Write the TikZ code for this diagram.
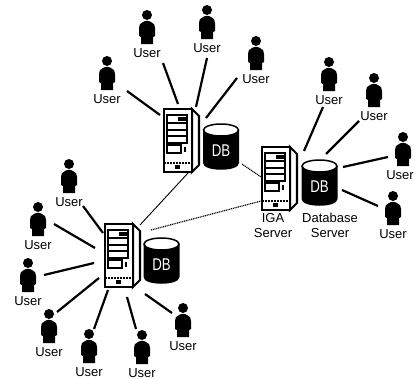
\documentclass[tikz,border=0pt]{standalone}
\usepackage{fontspec}
\setmainfont{Liberation Sans}
\tikzset{
  person/.style={fill=black,draw=none},
  userlabel/.style={font=\fontsize{13}{13}\selectfont,inner sep=0pt,text=black},
  spoke/.style={line width=2.2pt,line cap=butt},
  dotlink/.style={line width=1.2pt,dash pattern=on 1pt off 0.8pt},
  thinlink/.style={line width=0.9pt},
  case/.style={draw=black,line width=2.1pt,fill=white,line join=miter},
  part/.style={draw=black,line width=1.1pt,fill=white},
  dbtext/.style={text=white,font=\fontsize{17}{17}\selectfont,inner sep=0pt,xscale=0.78,transform shape},
  caption/.style={font=\fontsize{13}{15}\selectfont,inner sep=0pt,align=center}
}
% [label dx], name, head x, head y
\newcommand{\userfig}[4][0]{%
  \begin{scope}[shift={(#3,#4)}]
    \fill[person] (0,0) circle[radius=5];
    \fill[person] (-4,7) .. controls (-2,5.5) and (2,5.5) .. (4,7)
      .. controls (7,8) and (8,10) .. (8,13) -- (8,21) -- (6,22) -- (6,29) -- (-6,29) -- (-6,22) -- (-8,21) -- (-8,13)
      .. controls (-8,10) and (-7,8) .. (-4,7) -- cycle;
    \node[userlabel] (#2) at (#1,38) {User};
  \end{scope}}
% name, left x, top y
\newcommand{\serverfig}[3]{%
  \begin{scope}[shift={(#2,#3)}]
    \draw[case] (28,0) -- (35,7) -- (35,56) -- (28,63) -- cycle;
    \draw[case] (0,0) rectangle (28,63);
    \coordinate (#1) at (14,31);
    \draw[part] (3,6) rectangle (23,34);
    \draw[part] (3,14) -- (23,14) (3,21) -- (23,21) (3,27) -- (23,27);
    \fill[black] (14,8) rectangle (23,12);
    \draw[part] (3,36) rectangle (17,44);
    \fill[black] (20,38) rectangle (22,43);
    \draw[line width=1.1pt,dash pattern=on 2pt off 1pt] (0,54) -- (28,54);
    \fill[black] (11,56) rectangle (16,60);
  \end{scope}}
% name, center x, y of top ellipse centre
\newcommand{\dbfig}[3]{%
  \begin{scope}[shift={(#2,#3)}]
    \fill[black] (-18,0) -- (-18,33) .. controls (-18,42) and (18,42) .. (18,33) -- (18,0) -- cycle;
    \draw[black,line width=1.5pt,fill=white] (0,0) ellipse[x radius=17.5,y radius=6];
    \node[dbtext] (#1) at (0,21) {DB};
  \end{scope}}
\begin{document}
\begin{tikzpicture}[x=1pt,y=-1pt]
\useasboundingbox (0,0) rectangle (415,380);
\fill[white] (0,0) rectangle (415,380);

% top cluster
\userfig{ua}{107}{61}
\userfig{ub}{147}{15}
\userfig{uc}{207}{10}
\userfig{ud}{256}{41}
\serverfig{sa}{164}{109}
\dbfig{da}{221}{130}

% left cluster
\userfig{ue}{69}{164}
\userfig{uf}{38}{207}
\userfig{ug}{28}{263}
\userfig{uh}{49}{314}
\userfig{ui}{89}{334}
\userfig{uj}{142}{335}
\userfig{uk}{183}{308}
\serverfig{sb}{105}{224}
\dbfig{db}{161.5}{244}

% right cluster
\userfig{ul}{329}{62}
\userfig{um}{374}{78}
\userfig[-3]{un}{403}{137}
\userfig{uo}{393}{196}
\serverfig{sc}{262}{147}
\dbfig{dc}{319.5}{166}
\node[caption] (iga) at (273,225.5) {IGA\\Server};
\node[caption] (dbcap) at (330,225.5) {Database\\Server};

% connector ends
\foreach \n/\ax/\ay/\bx/\by in {
  a/127/91/160/115, b/163/63/178/104, c/207/58/196/107, d/237/78/206/118,
  e/83/206/103/233, f/54/224/95/248, g/44/275/94/263, h/57/312/99/278,
  i/94/329/108/290, j/136/329/127/297, k/172/313/145/294,
  l/323/107/304/151, m/359/121/326/154, n/388/157/343/167, o/378/206/342/190}{
  \coordinate (p\n) at (\ax,\ay);
  \coordinate (q\n) at (\bx,\by);
  \draw[spoke] (p\n) -- (q\n);
}
\coordinate (ta) at (188,173);
\coordinate (tb) at (140,225);
\coordinate (tc) at (242,164);
\coordinate (td) at (261,177);
\coordinate (te) at (151,230);
\coordinate (tf) at (261,201);
\draw[thinlink] (ta) -- (tb);
\draw[dotlink] (tc) -- (td);
\draw[dotlink] (te) -- (tf);
\end{tikzpicture}
\end{document}
